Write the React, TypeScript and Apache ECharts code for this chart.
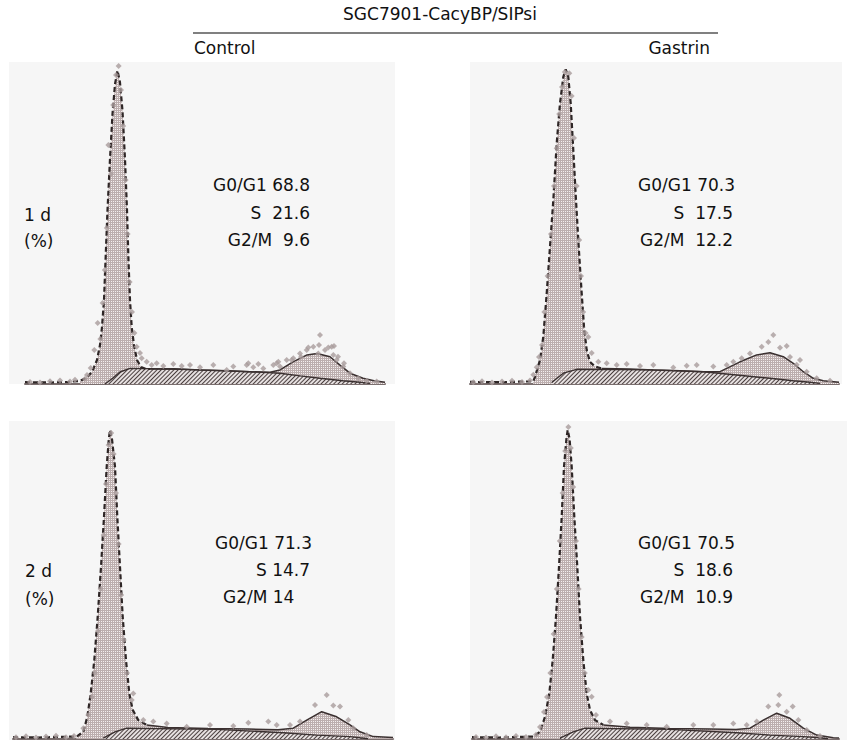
import React, { useEffect, useRef } from "react";
import * as echarts from "echarts";

// ---------- Data (channel, relative count) ----------
// Top-left: 1 d, Control
const tlBase = [[8.5, 0.6], [20, 0.5], [30, 0.7], [36, 1]];
const tlPeak = [[36, 1], [39, 2], [42, 4], [44.5, 8], [46, 13], [47, 19], [48, 28], [48.75, 41], [49.75, 58], [51, 75], [52.25, 90], [53.5, 100], [54.75, 104.5], [56, 100.5], [57.25, 91], [58.5, 75], [59.5, 58], [60.25, 41], [61, 28], [61.85, 19], [63, 13], [64.5, 8], [66.5, 5.7], [69, 5], [71, 5]];
const tlCycle = [[71, 5], [83, 5.1], [96, 4.7], [110, 4.4], [121, 4.1], [131, 3.9], [136, 4.7], [142.5, 7.4], [149.5, 9.7], [154.5, 10.2], [161, 9.1], [166, 6.3], [171, 3.6], [177.5, 1.9], [183, 1.1], [188.5, 0.6]];
const tlS = [[48.5, 0], [52.5, 2], [56, 4], [61, 5.2], [80, 5], [96, 4.7], [121, 4.1], [136, 3.6], [146, 2.7], [156, 1.9], [167.5, 1.1], [176, 0.6], [181, 0.2]];
const tlPoints = [[11, 0.7], [16, 0.5], [21, 0.9], [26, 1.2], [31, 0.8], [33.5, 1.4], [38.5, 1.7], [39.5, 3], [41.35, 5.3], [43.15, 11.3], [44.85, 20.3], [46.2, 15], [47.3, 27], [48.4, 38], [49.4, 52], [50.2, 79.7], [51.5, 70], [52.6, 93], [54, 103], [55.3, 106], [56.5, 98], [57.6, 86], [58.8, 68], [59.8, 50], [60.8, 34], [62, 24], [63.2, 17], [64.35, 12.4], [66, 10.3], [66.85, 8.6], [69.35, 7.4], [71.85, 6.3], [74.35, 6.9], [77.65, 6], [82.65, 6.7], [86.85, 6], [91, 6.3], [96, 5.6], [102.65, 6.3], [109.35, 4.7], [112.65, 5.8], [119.35, 6.3], [120.15, 6.9], [122.65, 5.6], [125.15, 6.7], [127.65, 5.2], [132.65, 6.3], [134.35, 6.9], [135.15, 7.4], [136, 5.8], [139.35, 8], [141.85, 8], [142.65, 8.6], [146, 10.2], [146.5, 9], [149.35, 11.3], [150.15, 12.2], [152.65, 12.4], [155.15, 10.2], [155.5, 13], [156, 16.3], [158.5, 11.3], [160.15, 12.2], [161.85, 12.4], [162.65, 9.7], [163, 12.7], [164.35, 8], [165, 9.1], [167.65, 5.8], [168, 6.9], [171, 3.6], [175.15, 1.9], [179.35, 1.1], [184.35, 0.8]];

// Top-right: 1 d, Gastrin
const trBase = [[0, 0.7], [15, 0.6], [31.65, 0.9]];
const trPeak = [[31.65, 0.9], [32.5, 2.4], [35, 8], [36.65, 15.8], [38.35, 30.2], [40, 45.8], [41.65, 61.3], [43.35, 80.2], [45, 93.6], [46.65, 102.4], [47.85, 104.9], [49.15, 102.4], [50.35, 93.6], [51.65, 78], [53, 61.3], [54.35, 45.8], [55.85, 30.2], [57, 19.1], [58.35, 11.3], [60, 7.4], [62.5, 5.8], [65.85, 5.2]];
const trCycle = [[65.85, 5.2], [80, 5], [91.65, 4.7], [105, 4.4], [116.65, 4.1], [125, 4.1], [135, 7.4], [143.35, 9.7], [150, 10.4], [156.65, 9.1], [161.65, 6.9], [166.65, 4.1], [171.65, 1.9], [176.65, 1.1], [184.5, 0.6]];
const trS = [[40.85, 0.5], [46.65, 3.6], [53.35, 4.9], [91.65, 4.7], [116.65, 4.1], [133.35, 3], [150, 1.9], [161.65, 1.1], [170, 0.6], [175, 0.2]];
const trPoints = [[1.65, 0.6], [6, 0.9], [11, 0.5], [16, 0.8], [21, 1.1], [26, 0.7], [30, 1.2], [31.65, 3.1], [33.35, 5.6], [34.5, 9], [36, 13], [37.2, 24], [38.8, 36], [40.5, 50], [42, 66], [43.35, 78.6], [44.6, 90], [46, 99], [47.4, 104], [49.65, 103.6], [50.8, 96], [52, 82], [53.3, 66], [54.6, 48], [55.5, 36], [56.6, 24], [57.8, 17], [59.15, 15.7], [60.85, 10.3], [64.15, 7.4], [68.35, 6.9], [73.35, 6.3], [78.35, 6.7], [85, 6], [91.65, 6.3], [101.65, 5.5], [108.35, 6.1], [113.35, 6.3], [121.65, 5.8], [128.35, 6.3], [131.65, 7.4], [135.85, 8.6], [140, 10.2], [145.85, 12.4], [149.15, 14], [151.65, 16.3], [155, 12.1], [158.35, 12.7], [160, 9], [163.35, 6.4], [165, 8], [168.35, 4.1], [173.35, 1.9], [180, 1.1]];

// Bottom-left: 2 d, Control
const blBase = [[2.5, 0.6], [15, 0.5], [25, 0.7], [34.35, 0.8]];
const blPeak = [[34.35, 0.8], [37.65, 2.4], [39.65, 7.4], [41.35, 15.2], [43.15, 26.3], [44.85, 40.8], [46.5, 57.4], [48, 74.1], [49.35, 90.8], [50.4, 100], [51, 103], [52, 100], [53.5, 90.8], [54.65, 74.1], [56, 57.4], [57.35, 40.8], [59, 26.3], [60.65, 15.2], [62.35, 9.7], [65.15, 6.3], [69.35, 4.7]];
const blCycle = [[69.35, 4.7], [80, 3.8], [100, 3.5], [120, 3.3], [135, 3.1], [142.65, 3.6], [149.35, 6.3], [156.85, 9.1], [164.35, 7.4], [171, 4.7], [176, 2.4], [182.65, 0.8], [192.5, 0.5]];
const blS = [[47.65, 0.3], [53.5, 2.4], [59.35, 3.6], [104.35, 3.2], [137.65, 2.1], [154.35, 1.3], [171, 0.8], [176, 0.4], [180, 0.1]];
const blPoints = [[4, 0.6], [9, 0.9], [14, 0.5], [19, 0.8], [24, 1.1], [29, 0.6], [33, 1], [37.65, 3.6], [40.15, 8], [42, 14], [43.5, 22], [45, 36], [46.3, 50], [47.8, 68], [49, 85], [50.3, 98], [51.6, 102], [52.8, 95], [54, 82], [55.3, 65], [56.6, 48], [57.9, 33], [59.5, 22], [61.85, 13], [62.65, 15.2], [67.65, 6.3], [72.65, 5.8], [79.35, 5.2], [89.35, 4.1], [101, 4.7], [112.65, 4.3], [120.15, 5.4], [130.15, 5.8], [134.35, 4.7], [141, 4.7], [146, 5.8], [153.5, 11.3], [159.35, 14.7], [162.65, 11.2], [166, 10.8], [170.15, 6.3], [172.65, 3.6], [179.35, 1.3]];

// Bottom-right: 2 d, Gastrin
const brBase = [[1, 0.6], [15, 0.5], [25, 0.7], [31.65, 0.8]];
const brPeak = [[31.65, 0.8], [35, 2.4], [37.5, 7.4], [39.65, 15.2], [41.35, 26.3], [43, 40.8], [44.5, 57.4], [45.85, 74.1], [47, 90.8], [48.2, 100], [48.85, 103], [49.8, 100], [50.85, 90.8], [52.15, 74.1], [53.65, 57.4], [55, 40.8], [56.65, 26.3], [58.35, 15.2], [60, 9.7], [62.5, 6.3], [66.65, 4.7]];
const brCycle = [[66.65, 4.7], [80, 3.9], [100, 3.5], [120, 3.3], [133, 3.2], [140, 3.6], [146.65, 6.3], [153.35, 8.6], [160, 6.9], [166.65, 3.6], [173.35, 1.3], [181.65, 0.4], [184.5, 0.3]];
const brS = [[45, 0.3], [51.65, 2.4], [57.5, 3.6], [100, 3.2], [133.35, 2.1], [150, 1.3], [166.65, 0.8], [175, 0.4], [179, 0.1]];
const brPoints = [[3, 0.7], [8, 0.5], [13, 0.9], [18, 0.6], [23, 1], [28, 0.7], [33, 1.4], [35, 4], [37, 9], [38.5, 14], [40.2, 22], [41.8, 35], [43.4, 50], [44.9, 66], [46.3, 82], [47.6, 96], [49.2, 104], [50.4, 97], [51.6, 84], [53, 66], [54.3, 50], [55.8, 34], [57.4, 22], [59.15, 16.3], [60.85, 14.1], [63, 8], [70, 5.8], [78.35, 5.2], [88.35, 4.7], [98.35, 4.1], [111.65, 4.7], [121.65, 4.7], [131.65, 5.2], [138.35, 4.7], [143.35, 5.8], [149.15, 10.8], [154.15, 11.3], [154.65, 14.7], [158.35, 9.1], [161.35, 10.8], [164.15, 6.3], [168.35, 3], [175, 1]];

// Labels
const titleText = "SGC7901-CacyBP/SIPsi";
const groupNames = ["Control", "Gastrin"];
const dayLabels = ["1 d", "2 d"];
const unitLabel = "(%)";
const phaseNames = ["G0/G1", "S", "G2/M"];
const tlStats = ["68.8", "21.6", "9.6"];
const trStats = ["70.3", "17.5", "12.2"];
const blStats = ["71.3", "14.7", "14"];
const brStats = ["70.5", "18.6", "10.9"];

const FONT = '"DejaVu Sans", Verdana, sans-serif';

const gridDecal = {
  symbol: "rect",
  symbolSize: 1,
  color: "#bcaeae",
  dashArrayX: [[1, 0], [1, 1]],
  dashArrayY: [1, 0, 1, 0],
};
const hatchDecal = {
  symbol: "rect",
  symbolSize: 1,
  color: "#4a3f3f",
  dashArrayX: [1, 0],
  dashArrayY: [1, 2],
  rotation: -Math.PI / 4,
};

function panelSeries(idx: number, base: number[][], peak: number[][], cycle: number[][], s: number[][], pts: number[][]) {
  const c = { xAxisIndex: idx, yAxisIndex: idx, silent: true };
  return [
    {
      ...c, type: "line", data: cycle, symbol: "none", z: 2,
      lineStyle: { opacity: 0 },
      areaStyle: { color: "#f3eeee", opacity: 1 },
      itemStyle: { color: "#f3eeee", decal: gridDecal },
    },
    {
      ...c, type: "line", data: peak, symbol: "none", z: 3,
      lineStyle: { opacity: 0 },
      areaStyle: { color: "#f3eeee", opacity: 1 },
      itemStyle: { color: "#f3eeee", decal: gridDecal },
    },
    {
      ...c, type: "line", data: s, symbol: "none", z: 4,
      lineStyle: { color: "#3a3030", width: 1.4 },
      areaStyle: { color: "#e6e0e0", opacity: 1 },
      itemStyle: { color: "#3a3030", decal: hatchDecal },
    },
    {
      ...c, type: "line", data: base.concat(peak), symbol: "none", z: 5,
      lineStyle: { color: "#2e2626", width: 2.2, type: [5, 3] },
    },
    {
      ...c, type: "line", data: cycle, symbol: "none", z: 5,
      lineStyle: { color: "#3a3030", width: 1.5 },
    },
    {
      ...c, type: "scatter", data: pts, symbol: "diamond", symbolSize: 6, z: 6,
      itemStyle: { color: "#a99c9c" },
    },
  ];
}

function txt(text: string, x: number, y: number, align: string, size = 17) {
  return {
    type: "text", x, y, z: 100,
    style: {
      text, font: `${size}px ${FONT}`, fill: "#111",
      textAlign: align, textVerticalAlign: "middle", align, verticalAlign: "middle",
    },
  };
}

export default function App() {
  const ref = useRef<HTMLDivElement>(null);
  useEffect(() => {
    if (!ref.current) return;
    const chart = echarts.init(ref.current, null, { renderer: "svg" });
    const grids = [
      { left: 25, top: 63, width: 360, height: 321, xmin: 8.5, xmax: 188.5, ymax: 107 },
      { left: 470, top: 63, width: 369, height: 321, xmin: 0, xmax: 184.5, ymax: 107 },
      { left: 13, top: 421, width: 380, height: 318, xmin: 2.5, xmax: 192.5, ymax: 106 },
      { left: 472, top: 421, width: 367, height: 318, xmin: 1, xmax: 184.5, ymax: 106 },
    ];
    const bg = (x: number, y: number, w: number, h: number) => ({
      type: "rect", z: -10, shape: { x, y, width: w, height: h }, style: { fill: "#f6f6f6" },
    });
    const option: any = {
      animation: false,
      backgroundColor: "#ffffff",
      grid: grids.map((g) => ({ left: g.left, top: g.top, width: g.width, height: g.height, containLabel: false })),
      xAxis: grids.map((g, i) => ({
        type: "value", gridIndex: i, min: g.xmin, max: g.xmax,
        axisLine: { show: true, onZero: false, lineStyle: { color: "#7a6e6e", width: 2 } },
        axisTick: { show: false }, axisLabel: { show: false }, splitLine: { show: false },
      })),
      yAxis: grids.map((g, i) => ({
        type: "value", gridIndex: i, min: 0, max: g.ymax,
        axisLine: { show: false }, axisTick: { show: false }, axisLabel: { show: false }, splitLine: { show: false },
      })),
      series: [
        ...panelSeries(0, tlBase, tlPeak, tlCycle, tlS, tlPoints),
        ...panelSeries(1, trBase, trPeak, trCycle, trS, trPoints),
        ...panelSeries(2, blBase, blPeak, blCycle, blS, blPoints),
        ...panelSeries(3, brBase, brPeak, brCycle, brS, brPoints),
      ],
      graphic: [
        bg(9, 62, 386, 322),
        bg(470, 62, 372, 322),
        bg(9, 421, 386, 319),
        bg(470, 421, 377, 319),
        txt(titleText, 440, 14, "center", 17),
        { type: "line", z: 100, shape: { x1: 193, y1: 33, x2: 718, y2: 33 }, style: { stroke: "#808080", lineWidth: 2 } },
        txt(groupNames[0], 194, 48, "left", 17),
        txt(groupNames[1], 710, 48, "right", 17),
        // top-left
        txt(dayLabels[0], 24, 215, "left"),
        txt(unitLabel, 24, 241, "left"),
        txt(`${phaseNames[0]} ${tlStats[0]}`, 310, 185, "right"),
        txt(`${phaseNames[1]}  ${tlStats[1]}`, 310, 213, "right"),
        txt(`${phaseNames[2]}  ${tlStats[2]}`, 310, 240, "right"),
        // top-right
        txt(`${phaseNames[0]} ${trStats[0]}`, 735, 185, "right"),
        txt(`${phaseNames[1]}  ${trStats[1]}`, 733, 213, "right"),
        txt(`${phaseNames[2]}  ${trStats[2]}`, 733, 240, "right"),
        // bottom-left
        txt(dayLabels[1], 25, 571, "left"),
        txt(unitLabel, 25, 599, "left"),
        txt(`${phaseNames[0]} ${blStats[0]}`, 312, 543, "right"),
        txt(`${phaseNames[1]} ${blStats[1]}`, 310, 570, "right"),
        txt(`${phaseNames[2]} ${blStats[2]}`, 223, 597, "left"),
        // bottom-right
        txt(`${phaseNames[0]} ${brStats[0]}`, 735, 543, "right"),
        txt(`${phaseNames[1]}  ${brStats[1]}`, 733, 570, "right"),
        txt(`${phaseNames[2]}  ${brStats[2]}`, 733, 597, "right"),
      ],
    };
    chart.setOption(option);
    return () => chart.dispose();
  }, []);
  return (
    <div
      ref={ref}
      style={{ position: "absolute", left: 0, top: 0, width: 847, height: 740, background: "#fff" }}
    />
  );
}
